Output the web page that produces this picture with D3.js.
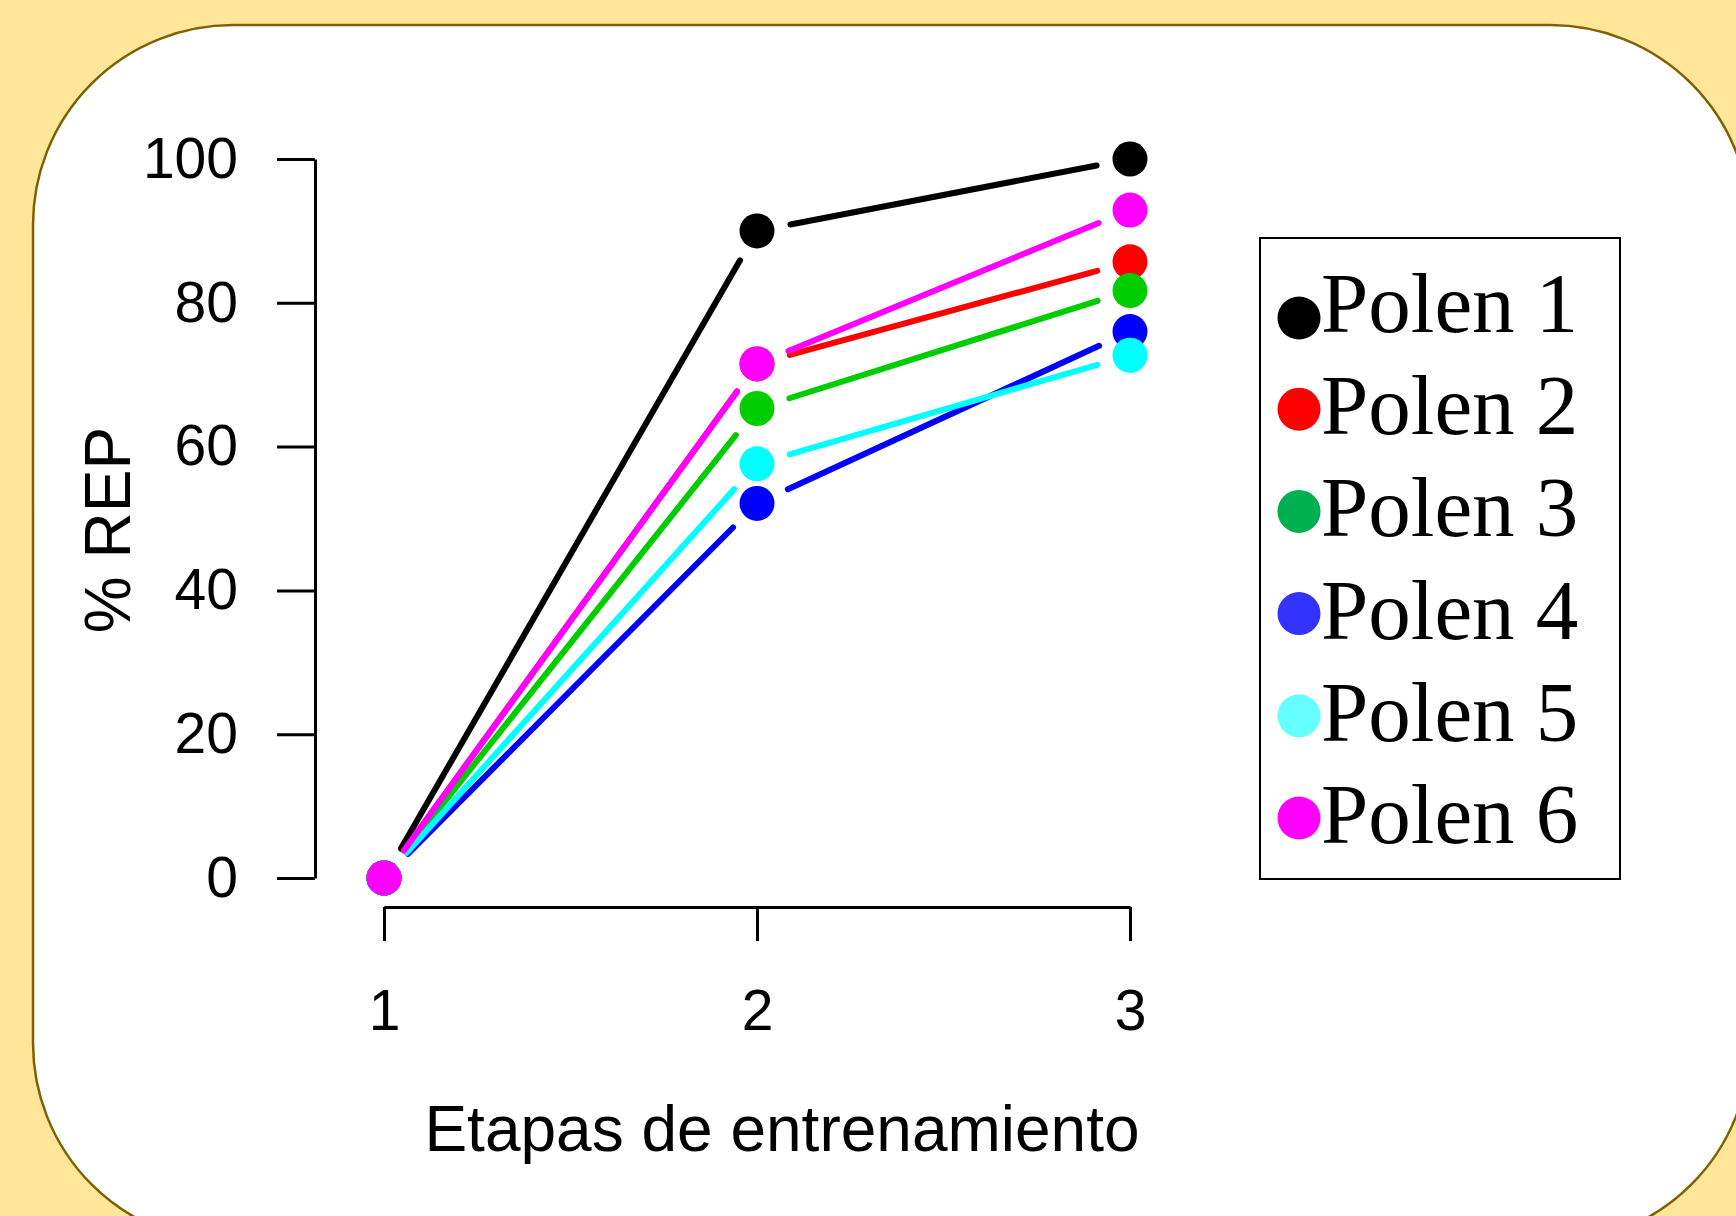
<!DOCTYPE html>
<html>
<head>
<meta charset="utf-8">
<script src="https://cdn.jsdelivr.net/npm/d3@7"></script>
<style>
  html, body { margin: 0; padding: 0; background: #FFE699; }
  svg { display: block; }
</style>
</head>
<body>
<svg id="chart" width="1736" height="1216"></svg>
<script>
// ---- data ----
const stages = [1, 2, 3];
const seriesNames = ["Polen 1", "Polen 2", "Polen 3", "Polen 4", "Polen 5", "Polen 6"];
const polen1 = [0, 90.0, 100.0];
const polen2 = [0, 71.5, 85.7];
const polen3 = [0, 65.3, 81.7];
const polen4 = [0, 52.1, 76.0];
const polen5 = [0, 57.6, 72.7];
const polen6 = [0, 71.5, 92.9];
const seriesValues = [polen1, polen2, polen3, polen4, polen5, polen6];
const lineColors = ["#000000", "#FF0000", "#00CD00", "#0000FF", "#00FFFF", "#FF00FF"];
const legendColors = ["#000000", "#FF0000", "#00B050", "#3333FF", "#66FFFF", "#FF00FF"];
const yTicks = [0, 20, 40, 60, 80, 100];
const xTicks = [1, 2, 3];
const xTitle = "Etapas de entrenamiento";
const yTitle = "% REP";

// ---- drawing ----
const svg = d3.select("#chart");

// rounded white panel
svg.append("rect")
  .attr("x", 33).attr("y", 25)
  .attr("width", 1717).attr("height", 1218)
  .attr("rx", 200).attr("ry", 200)
  .attr("fill", "#FFFFFF")
  .attr("stroke", "#7F6000")
  .attr("stroke-width", 2.5);

const x = d3.scaleLinear().domain([1, 3]).range([384, 1130]);
const y = d3.scaleLinear().domain([0, 100]).range([878, 159]);

const sans = "'Liberation Sans', Arial, Helvetica, sans-serif";
const serif = "'Liberation Serif', 'Times New Roman', Times, serif";

// Y axis
const yAxis = svg.append("g")
  .attr("transform", "translate(315,0)")
  .call(d3.axisLeft(y).tickValues(yTicks).tickSize(38).tickSizeOuter(0).tickPadding(39));
yAxis.select(".domain").attr("stroke", "#000").attr("stroke-width", 3);
yAxis.selectAll(".tick line").attr("stroke", "#000").attr("stroke-width", 3);
yAxis.selectAll(".tick text")
  .attr("font-family", sans).attr("font-size", 57).attr("fill", "#000");

// X axis
const xAxis = svg.append("g")
  .attr("transform", "translate(0,907)")
  .call(d3.axisBottom(x).tickValues(xTicks).tickFormat(d3.format("d"))
    .tickSize(34).tickSizeOuter(0).tickPadding(49));
xAxis.select(".domain").attr("stroke", "#000").attr("stroke-width", 3);
xAxis.selectAll(".tick line").attr("stroke", "#000").attr("stroke-width", 3);
xAxis.selectAll(".tick text")
  .attr("font-family", sans).attr("font-size", 57).attr("fill", "#000");

// axis titles
svg.append("text")
  .attr("x", 782).attr("y", 1151)
  .attr("text-anchor", "middle")
  .attr("font-family", sans).attr("font-size", 64)
  .attr("fill", "#000")
  .text(xTitle);

svg.append("text")
  .attr("transform", "translate(130,530) rotate(-90)")
  .attr("text-anchor", "middle")
  .attr("font-family", sans).attr("font-size", 64)
  .attr("fill", "#000")
  .text(yTitle);

// series: lines with gaps (type "b") then points
const gap = 34;
const radius = 17.5;
seriesValues.forEach((vals, si) => {
  const g = svg.append("g");
  const pts = vals.map((v, i) => [x(stages[i]), y(v)]);
  const segs = d3.pairs(pts).map(([a, b]) => {
    const dx = b[0] - a[0], dy = b[1] - a[1];
    const len = Math.hypot(dx, dy);
    const ux = dx / len, uy = dy / len;
    return [[a[0] + ux * gap, a[1] + uy * gap], [b[0] - ux * gap, b[1] - uy * gap]];
  });
  g.selectAll("line").data(segs).join("line")
    .attr("x1", d => d[0][0]).attr("y1", d => d[0][1])
    .attr("x2", d => d[1][0]).attr("y2", d => d[1][1])
    .attr("stroke", lineColors[si])
    .attr("stroke-width", 6)
    .attr("stroke-linecap", "round");
  g.selectAll("circle").data(vals).join("circle")
    .attr("cx", (d, i) => x(stages[i]))
    .attr("cy", d => y(d))
    .attr("r", radius)
    .attr("fill", lineColors[si]);
});

// legend
const legend = svg.append("g");
legend.append("rect")
  .attr("x", 1260).attr("y", 238)
  .attr("width", 360).attr("height", 641)
  .attr("fill", "#FFFFFF")
  .attr("stroke", "#000").attr("stroke-width", 2);

const rowY = d3.scaleLinear().domain([0, 5]).range([332, 843]);
seriesNames.forEach((name, i) => {
  legend.append("circle")
    .attr("cx", 1299).attr("cy", rowY(i) - (i === 0 ? 14 : 25))
    .attr("r", 21.5)
    .attr("fill", legendColors[i]);
  legend.append("text")
    .attr("x", 1321).attr("y", rowY(i))
    .attr("font-family", serif).attr("font-size", 85)
    .attr("fill", "#000")
    .text(name);
});
</script>
</body>
</html>
